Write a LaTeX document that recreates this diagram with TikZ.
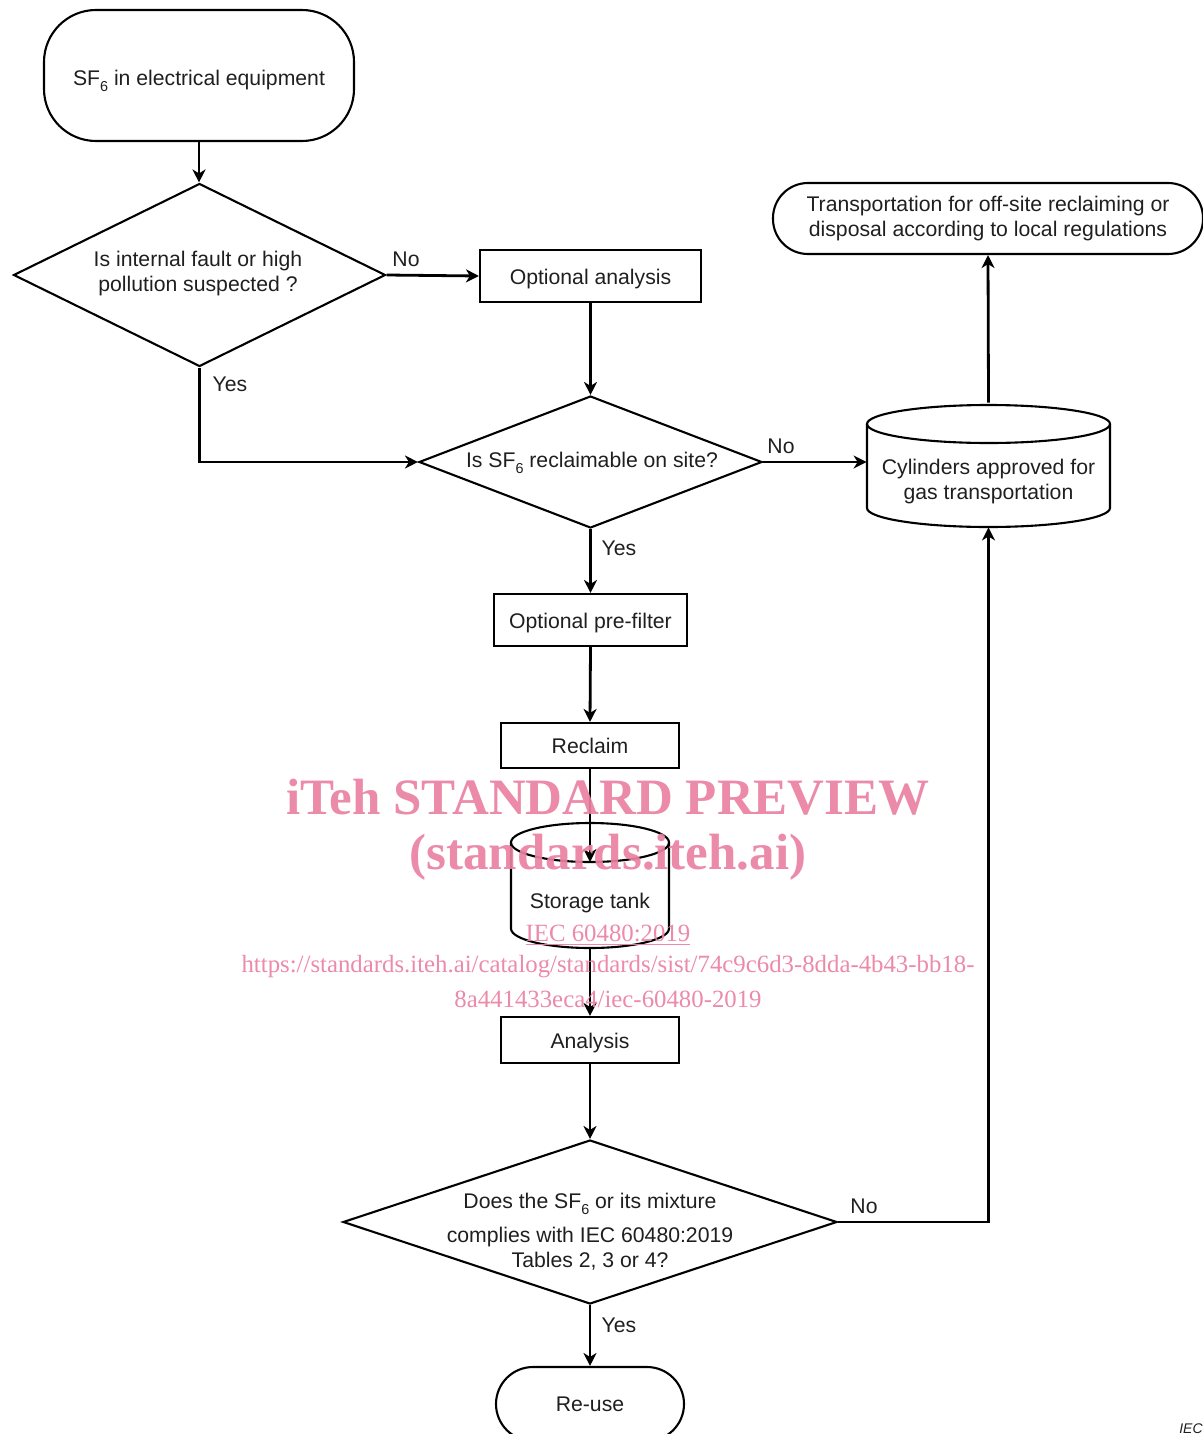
\documentclass[tikz,border=0pt]{standalone}
\usepackage{fontspec}
\setmainfont{Liberation Sans}
\newfontfamily\wmfont{Liberation Serif}
\usetikzlibrary{shapes.geometric,arrows.meta}
\definecolor{wmpink}{RGB}{234,128,162}
\newcommand\mysub[1]{\raisebox{-0.55ex}{\fontsize{7.2}{8}\selectfont #1}}
\begin{document}
\begin{tikzpicture}[x=0.5pt,y=-0.5pt,
  every node/.style={font=\fontsize{10.6}{12.5}\selectfont, text=black!88},
  base/.style={draw, line width=1.05pt, inner sep=0pt},
  proc/.style={base, rectangle, text height=9pt, text depth=0.6pt},
  term/.style={base, rectangle, rounded corners=#1},
  term/.default=17pt,
  dec/.style={base, diamond},
  ghost/.style={rectangle, inner sep=0pt, draw=none},
  txt/.style={inner sep=0pt, align=center},
  outline/.style={line width=1.05pt},
  conn/.style={line width=1.4pt, -{Stealth[length=6.5pt,width=6.5pt,inset=2pt]}},
  lbl/.style={inner sep=0pt},
  wm/.style={text=wmpink, inner sep=0pt, opacity=0.92},
]
\useasboundingbox (0,0) rectangle (1203,1434);

% ---- nodes ----
\node[term=26pt, minimum width=155pt, minimum height=65.5pt] (start) at (199,75.5) {};
\node[txt] (startt) at (199,81) {SF\mysub{6} in electrical equipment};

\node[dec, minimum width=186pt, minimum height=91.5pt] (d1) at (199.5,275) {};
\node[txt] (d1t) at (198,274) {Is internal fault or high\\pollution suspected ?};

\node[proc, minimum width=110.5pt, minimum height=26pt] (oa) at (590.5,276) {Optional analysis};

\node[dec, minimum width=171.5pt, minimum height=66pt] (d2) at (590.5,462) {};
\node[txt] (d2t) at (592,463) {Is SF\mysub{6} reclaimable on site?};

\node[term=17.5pt, minimum width=215pt, minimum height=35.5pt] (trans) at (988,218.5) {};
\node[txt] (transt) at (988,219) {Transportation for off-site reclaiming or\\disposal according to local regulations};

\node[ghost, minimum width=121.5pt, minimum height=62pt] (cyl) at (988.5,465) {};
\node[txt] (cylt) at (988.5,481.5) {Cylinders approved for\\gas transportation};

\node[proc, minimum width=96.5pt, minimum height=26pt] (pf) at (590.5,620) {Optional pre-filter};
\node[proc, minimum width=89pt, minimum height=22.5pt] (rec) at (590,745.5) {Reclaim};

\node[ghost, minimum width=79pt, minimum height=62.5pt] (tank) at (590,885.5) {};
\node[txt] (tankt) at (590,903) {Storage tank};
\coordinate (tankfront) at (590,862);

\node[proc, minimum width=89pt, minimum height=23pt] (an) at (590,1040) {Analysis};

\node[dec, minimum width=247pt, minimum height=82pt] (d3) at (590,1222) {};
\node[txt] (d3t) at (590,1231.5) {Does the SF\mysub{6} or its mixture\\[4.5pt]complies with IEC 60480:2019\\Tables 2, 3 or 4?};

\node[term=18.5pt, minimum width=94pt, minimum height=37pt] (reuse) at (590,1404) {Re-use};

% ---- cylinder outlines ----
\draw[outline] (988.5,424) ellipse[x radius=60.75pt, y radius=9.5pt];
\draw[outline] (867,424) -- (867,508) arc[start angle=180, end angle=360, x radius=60.75pt, y radius=9.5pt] -- (1110,424);

\draw[outline] (590,842.5) ellipse[x radius=39.5pt, y radius=9.75pt];
\draw[outline] (511,842.5) -- (511,928.5) arc[start angle=180, end angle=360, x radius=39.5pt, y radius=9.75pt] -- (669,842.5);

% ---- connectors ----
\draw[conn] (start.south) -- (start.south |- d1.north);
\draw[conn] (d1.east) -- (oa.west);
\node[lbl] (no1) at (406,259) {No};
\draw[conn] (oa.south) -- (d2.north);
\draw[conn] (d1.south) |- (d2.west);
\node[lbl] (yes1) at (230,384) {Yes};
\draw[conn] (d2.east) -- (d2.east -| cyl.west);
\node[lbl] (no2) at (781,446) {No};
\draw[conn] (cyl.north) -- (trans.south);
\draw[conn] (d2.south) -- (pf.north);
\node[lbl] (yes2) at (619,548) {Yes};
\draw[conn] (pf.south) -- (rec.north);
\draw[conn] (rec.south) -- (tankfront);
\draw[conn] (tank.south) -- (an.north);
\draw[conn] (an.south) -- (d3.north);
\draw[conn] (d3.east) -| (cyl.south);
\node[lbl] (no3) at (864,1206) {No};
\draw[conn] (d3.south) -- (reuse.north);
\node[lbl] (yes3) at (619,1325) {Yes};

\node[lbl, font=\itshape\fontsize{7}{8}\selectfont, anchor=south east] (iec) at (1203,1434) {IEC};

% ---- watermark ----
\node[wm, font=\wmfont\bfseries\fontsize{25.5}{28}\selectfont] (wm1) at (608,797) {iTeh STANDARD PREVIEW};
\node[wm, font=\wmfont\bfseries\fontsize{25.5}{28}\selectfont] (wm2) at (608,857) {(standards.iteh.ai)};
\node[wm, font=\wmfont\fontsize{12.4}{14}\selectfont] (wm3) at (608,935) {\underline{IEC 60480:2019}};
\node[wm, font=\wmfont\fontsize{12.4}{14}\selectfont] (wm4) at (608,967) {https://standards.iteh.ai/catalog/standards/sist/74c9c6d3-8dda-4b43-bb18-};
\node[wm, font=\wmfont\fontsize{12.4}{14}\selectfont] (wm5) at (608,999) {8a441433eca4/iec-60480-2019};
\end{tikzpicture}
\end{document}
